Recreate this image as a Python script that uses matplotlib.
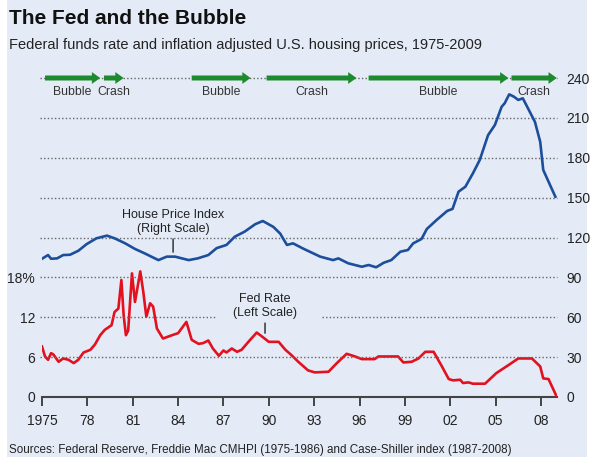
import matplotlib
matplotlib.use("Agg")
import matplotlib.pyplot as plt
from matplotlib.patches import FancyArrowPatch, Rectangle

plt.rcParams["font.family"] = ["Liberation Sans", "DejaVu Sans"]

# Fed funds rate, % (left scale)
RATE_YEARS = [1975.0, 1975.2, 1975.4, 1975.6, 1975.75, 1976.1, 1976.4, 1976.75, 1977.1, 1977.4,
              1977.75, 1978.2, 1978.5, 1978.85, 1979.15, 1979.6, 1979.8, 1980.05, 1980.25, 1980.4,
              1980.55, 1980.7, 1980.95, 1981.15, 1981.5, 1981.7, 1981.9, 1982.15, 1982.35, 1982.6,
              1983.0, 1983.6, 1984.0, 1984.55, 1984.9, 1985.35, 1985.65, 1986.0, 1986.3, 1986.7,
              1987.0, 1987.2, 1987.55, 1987.9, 1988.2, 1988.65, 1989.2, 1989.55, 1990.0, 1990.65,
              1991.1, 1991.5, 1991.95, 1992.6, 1993.05, 1993.95, 1994.5, 1995.15, 1995.7, 1996.15,
              1997.0, 1997.25, 1998.55, 1998.9, 1999.45, 1999.9, 2000.35, 2000.9, 2001.45, 2001.9,
              2002.2, 2002.65, 2002.85, 2003.2, 2003.5, 2004.3, 2005.05, 2005.85, 2006.5, 2007.4,
              2007.95, 2008.15, 2008.5, 2009.05]
RATE = [7.6, 6.1, 5.6, 6.6, 6.4, 5.3, 5.8, 5.6, 5.1, 5.6,
        6.7, 7.1, 7.9, 9.3, 10.1, 10.8, 12.8, 13.3, 17.6, 12.3,
        9.3, 10.0, 18.6, 14.3, 18.9, 15.8, 12.1, 14.1, 13.6, 10.3,
        8.8, 9.3, 9.6, 11.3, 8.6, 8.0, 8.1, 8.5, 7.3, 6.2,
        7.0, 6.7, 7.3, 6.8, 7.1, 8.3, 9.7, 9.1, 8.3, 8.3,
        7.1, 6.3, 5.3, 4.0, 3.7, 3.8, 5.1, 6.5, 6.1, 5.7,
        5.7, 6.1, 6.1, 5.2, 5.3, 5.8, 6.8, 6.8, 4.6, 2.7,
        2.5, 2.6, 2.1, 2.2, 2.0, 2.0, 3.6, 4.8, 5.8, 5.8,
        4.6, 2.8, 2.7, 0.0]

# Inflation adjusted house price index (right scale)
HPI_YEARS = [1975.0, 1975.4, 1975.6, 1976.0, 1976.4, 1976.85, 1977.4, 1977.95, 1978.6, 1979.3,
             1979.8, 1980.5, 1981.15, 1981.8, 1982.7, 1983.25, 1983.8, 1984.7, 1985.3, 1986.0,
             1986.55, 1987.2, 1987.75, 1988.4, 1989.1, 1989.6, 1990.3, 1990.75, 1991.2, 1991.6,
             1992.3, 1993.4, 1994.25, 1994.6, 1995.25, 1996.15, 1996.6, 1997.1, 1997.6, 1998.1,
             1998.7, 1999.2, 1999.55, 2000.1, 2000.45, 2001.1, 2001.8, 2002.15, 2002.55, 2003.0,
             2003.5, 2003.95, 2004.5, 2004.95, 2005.4, 2005.6, 2005.9, 2006.2, 2006.5, 2006.8,
             2007.15, 2007.6, 2007.95, 2008.15, 2008.5, 2008.95]
HPI = [104, 106.8, 104, 104.3, 106.8, 107, 110, 115, 119.4, 121.4,
       119.4, 115.6, 111.4, 108, 103, 105.6, 105.6, 103, 104.3, 106.8,
       112, 114.4, 120.6, 124.4, 130, 132.4, 128, 123, 114.4, 115.6,
       111.5, 105.6, 103, 104.3, 100.6, 98, 99.3, 97.6, 101, 103,
       109.3, 110.6, 115.6, 118.9, 126.4, 133.2, 140, 141.5, 154.5, 158.2,
       168.3, 178.3, 197, 204.6, 218.4, 221, 227.7, 226, 223.5, 224.7,
       217, 207, 192, 170.8, 162, 150.7]

PHASES = ["Bubble", "Crash", "Bubble", "Crash", "Bubble", "Crash"]
PHASE_START = [1975.2, 1979.1, 1984.9, 1989.85, 1996.6, 2006.05]
PHASE_END = [1978.85, 1980.4, 1988.8, 1995.8, 2005.85, 2009.05]

X_TICKS = [1975, 1978, 1981, 1984, 1987, 1990, 1993, 1996, 1999, 2002, 2005, 2008]
X_LABELS = ["1975", "78", "81", "84", "87", "90", "93", "96", "99", "02", "05", "08"]
LEFT_TICKS = [0, 6, 12, 18]
LEFT_LABELS = ["0", "6", "12", "18%"]
RIGHT_TICKS = [0, 30, 60, 90, 120, 150, 180, 210, 240]

BG = "#e4ebf6"
RED = "#e3111f"
BLUE = "#1c4e9b"
GREEN = "#1e8a2e"
INK = "#222222"
GRID = "#666666"

W, H = 594, 463
fig = plt.figure(figsize=(W / 100, H / 100), dpi=100)
fig.patches.append(Rectangle((7 / W, 6 / H), 580 / W, 457 / H, transform=fig.transFigure,
                             facecolor=BG, edgecolor="none", zorder=-10))

ax = fig.add_axes([42 / W, 66 / H, 515 / W, 319 / H])
ax.set_facecolor("none")
ax2 = ax.twinx()
x_end = 2009.06
ax.set_xlim(1975, x_end)
ax.set_ylim(0, 48)
ax2.set_ylim(0, 240)

for a in (ax, ax2):
    for s in a.spines.values():
        s.set_visible(False)
ax.spines["bottom"].set_visible(True)
ax.spines["bottom"].set_color("#444444")
ax.spines["bottom"].set_linewidth(1.5)

# dotted guides on the right-scale levels; the 60 line breaks for the Fed Rate label
dots = dict(colors=GRID, linestyles=(0, (1, 1.6)), lw=1, clip_on=False, zorder=1)
for v in RIGHT_TICKS[1:]:
    if v == 60:
        ax2.hlines(v, 1974.87, 1986.5, **dots)
        ax2.hlines(v, 1993.5, x_end, **dots)
    else:
        ax2.hlines(v, 1974.87, x_end, **dots)

ax.set_xticks(X_TICKS, X_LABELS)
ax.tick_params(axis="x", direction="out", length=6.5, width=1.4, color="#444444",
               pad=6, labelsize=10, labelcolor=INK)
ax.set_yticks(LEFT_TICKS, LEFT_LABELS)
ax.tick_params(axis="y", length=0, pad=5, labelsize=10, labelcolor=INK)
ax2.set_yticks(RIGHT_TICKS)
ax2.tick_params(axis="y", length=0, pad=7, labelsize=10, labelcolor=INK)

ax.plot(RATE_YEARS, RATE, color=RED, lw=1.9, zorder=3, solid_joinstyle="round")
ax2.plot(HPI_YEARS, HPI, color=BLUE, lw=1.9, zorder=3, solid_joinstyle="round")

for label, s, e in zip(PHASES, PHASE_START, PHASE_END):
    arr = FancyArrowPatch((s, 240), (e, 240),
                          arrowstyle="simple,head_length=6,head_width=8.5,tail_width=3.6",
                          mutation_scale=1, shrinkA=0, shrinkB=0, color=GREEN, lw=0,
                          transform=ax2.transData, clip_on=False, zorder=4)
    ax2.add_patch(arr)
    ax2.text((s + e) / 2, 229.5, label, ha="center", va="center", fontsize=8.8, color="#333333")

ax2.annotate("House Price Index\n(Right Scale)", xy=(1983.67, 109), xytext=(1983.67, 122),
             ha="center", va="bottom", fontsize=9, color=INK, linespacing=1.2,
             arrowprops=dict(arrowstyle="-", color=INK, lw=1, shrinkA=1, shrinkB=0))
ax.annotate("Fed Rate\n(Left Scale)", xy=(1989.75, 9.6), xytext=(1989.75, 11.75),
            ha="center", va="bottom", fontsize=9, color=INK, linespacing=1.2,
            arrowprops=dict(arrowstyle="-", color=INK, lw=1, shrinkA=1, shrinkB=0))

fig.text(9 / W, 1 - 19 / H, "The Fed and the Bubble", fontsize=15, fontweight="bold",
         color="#111111", va="center")
fig.text(9 / W, 1 - 45 / H,
         "Federal funds rate and inflation adjusted U.S. housing prices, 1975-2009",
         fontsize=10.5, color=INK, va="center")
fig.text(9 / W, 1 - 450 / H,
         "Sources: Federal Reserve, Freddie Mac CMHPI (1975-1986) and Case-Shiller index (1987-2008)",
         fontsize=8.4, color=INK, va="center")

fig.savefig("out.png", dpi=100, facecolor="white")
